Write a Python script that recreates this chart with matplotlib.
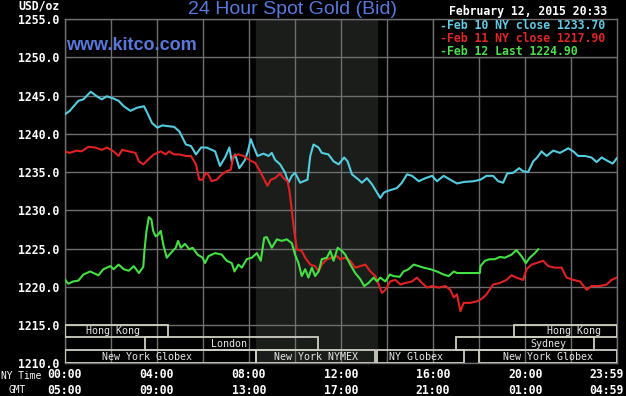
import matplotlib
matplotlib.use("Agg")
import matplotlib.pyplot as plt
from matplotlib.patches import Rectangle
from matplotlib.transforms import blended_transform_factory

# hours since 00:00 NY time, price in USD/oz
feb10_hours = [0, 0.23, 0.6, 0.82, 1.14, 1.4, 1.62, 1.84, 2.13, 2.35, 2.57, 2.86, 3.15, 3.45, 3.6, 3.8,
               4.03, 4.25, 4.47, 4.76, 4.99, 5.27, 5.49, 5.71, 5.93, 6.17, 6.54, 6.75, 6.97, 7.16, 7.26,
               7.41, 7.59, 7.84, 7.96, 8.09, 8.2, 8.38, 8.64, 8.86, 9.0, 9.14, 9.36, 9.58, 9.72, 9.87,
               10.01, 10.23, 10.38, 10.55, 10.67, 10.81, 11.03, 11.17, 11.46, 11.68, 11.9, 12.14, 12.29,
               12.48, 12.77, 12.91, 13.13, 13.35, 13.57, 13.71, 13.86, 14.0, 14.22, 14.43, 14.65, 14.87,
               15.09, 15.38, 15.67, 15.96, 16.17, 16.46, 16.75, 17.04, 17.33, 17.77, 18.06, 18.32, 18.61,
               18.83, 19.04, 19.22, 19.48, 19.74, 19.91, 20.13, 20.35, 20.52, 20.71, 20.93, 21.22, 21.51,
               21.87, 22.09, 22.3, 22.59, 22.88, 23.1, 23.32, 23.61, 23.8, 23.98]
feb10_price = [1242.5, 1243.0, 1244.3, 1244.5, 1245.5, 1244.9, 1244.5, 1244.9, 1244.6, 1244.3, 1243.6,
               1243.0, 1243.4, 1243.6, 1242.7, 1241.4, 1240.8, 1241.1, 1241.0, 1240.9, 1240.3, 1238.6,
               1238.4, 1237.3, 1238.2, 1238.2, 1237.7, 1235.8, 1236.9, 1238.2, 1236.4, 1237.3, 1235.5,
               1236.6, 1237.7, 1239.3, 1238.4, 1237.1, 1237.4, 1237.1, 1237.5, 1236.6, 1236.0, 1234.9,
               1233.6, 1234.5, 1234.9, 1233.6, 1233.8, 1234.0, 1237.1, 1238.6, 1238.2, 1237.5, 1237.3,
               1236.4, 1236.0, 1236.9, 1236.4, 1234.7, 1234.0, 1233.6, 1234.2, 1233.4, 1232.3, 1231.6,
               1232.3, 1232.5, 1232.7, 1232.9, 1233.6, 1234.7, 1234.5, 1233.8, 1234.2, 1234.5, 1233.8,
               1234.5, 1234.0, 1233.5, 1233.7, 1233.8, 1234.0, 1234.5, 1234.5, 1233.8, 1233.6, 1234.8,
               1234.9, 1235.5, 1235.1, 1235.0, 1236.4, 1236.9, 1237.7, 1237.1, 1237.8, 1237.5, 1238.1,
               1237.7, 1237.1, 1237.1, 1236.9, 1236.3, 1236.9, 1236.4, 1236.1, 1236.8]

feb11_hours = [0, 0.23, 0.53, 0.74, 1.04, 1.33, 1.62, 1.84, 2.13, 2.35, 2.5, 2.79, 3.08, 3.23, 3.42, 3.62,
               3.88, 4.18, 4.39, 4.54, 4.76, 4.98, 5.27, 5.49, 5.71, 5.85, 6.0, 6.1, 6.2, 6.39, 6.61, 6.83,
               7.04, 7.22, 7.33, 7.55, 7.77, 8.06, 8.28, 8.49, 8.64, 8.81, 8.96, 9.14, 9.36, 9.51, 9.68,
               9.77, 9.87, 9.97, 10.09, 10.3, 10.45, 10.67, 10.88, 11.03, 11.17, 11.39, 11.61, 11.83, 11.97,
               12.19, 12.4, 12.62, 12.84, 13.06, 13.28, 13.5, 13.64, 13.78, 13.93, 14.14, 14.36, 14.58,
               14.8, 15.09, 15.3, 15.52, 15.74, 15.96, 16.25, 16.54, 16.75, 16.9, 17.04, 17.19, 17.33,
               17.62, 17.91, 18.1, 18.32, 18.61, 18.9, 19.19, 19.41, 19.62, 19.91, 20.06, 20.28, 20.49,
               20.78, 21.0, 21.29, 21.58, 21.8, 22.09, 22.38, 22.67, 22.88, 23.25, 23.54, 23.75, 23.98]
feb11_price = [1237.7, 1237.5, 1237.8, 1237.7, 1238.3, 1238.2, 1237.9, 1238.2, 1237.7, 1237.1, 1237.9,
               1237.7, 1237.5, 1236.4, 1236.0, 1236.6, 1237.3, 1237.7, 1237.3, 1237.7, 1237.3, 1237.3,
               1237.1, 1237.1, 1236.0, 1234.0, 1234.0, 1234.7, 1234.9, 1233.8, 1234.0, 1234.7, 1235.1,
               1235.3, 1237.1, 1237.3, 1237.1, 1236.5, 1236.2, 1235.1, 1234.2, 1233.2, 1234.0, 1234.2,
               1234.8, 1234.2, 1233.8, 1232.5, 1229.9, 1227.3, 1224.9, 1224.7, 1223.8, 1222.9, 1222.7,
               1222.0, 1222.9, 1223.6, 1223.8, 1224.0, 1223.6, 1223.8, 1223.4, 1222.5, 1222.7, 1222.9,
               1222.0, 1221.4, 1220.3, 1219.2, 1219.6, 1220.7, 1220.9, 1220.3, 1220.5, 1220.7, 1221.2,
               1220.5, 1219.9, 1220.1, 1219.9, 1220.1, 1219.6, 1218.6, 1219.0, 1216.8, 1217.9, 1217.9,
               1218.1, 1218.4, 1219.0, 1220.3, 1220.5, 1220.9, 1221.5, 1221.2, 1220.9, 1222.3, 1222.9,
               1223.1, 1223.4, 1222.7, 1222.5, 1222.5, 1221.2, 1220.9, 1220.7, 1219.6, 1220.1, 1220.1,
               1220.3, 1220.9, 1221.2]

feb12_hours = [0, 0.16, 0.38, 0.6, 0.82, 1.11, 1.26, 1.47, 1.69, 1.99, 2.13, 2.35, 2.57, 2.79, 3.01, 3.23,
               3.42, 3.47, 3.56, 3.66, 3.77, 3.85, 3.96, 4.06, 4.18, 4.29, 4.44, 4.61, 4.83, 4.93, 5.05,
               5.23, 5.42, 5.56, 5.78, 6.0, 6.1, 6.25, 6.54, 6.83, 7.04, 7.26, 7.38, 7.55, 7.7, 7.91, 8.13,
               8.35, 8.52, 8.67, 8.78, 9.0, 9.22, 9.43, 9.65, 9.87, 10.01, 10.16, 10.3, 10.45, 10.59, 10.74,
               10.88, 11.03, 11.17, 11.39, 11.54, 11.68, 11.86, 12.04, 12.19, 12.41, 12.62, 12.84, 13.01,
               13.2, 13.42, 13.57, 13.71, 13.93, 14.12, 14.29, 14.55, 14.72, 14.94, 15.16, 15.38, 15.59,
               15.88, 16.17, 16.46, 16.68, 16.9, 17.04, 18.03, 18.06, 18.25, 18.46, 18.68, 18.9, 19.12,
               19.41, 19.62, 19.84, 20.03, 20.2, 20.42, 20.57]
feb12_price = [1221.0, 1220.4, 1220.7, 1220.8, 1221.6, 1222.0, 1221.8, 1221.5, 1222.3, 1222.7, 1222.3,
               1222.9, 1222.3, 1222.1, 1222.7, 1221.8, 1222.6, 1224.7, 1227.3, 1229.1, 1228.8, 1227.3,
               1226.6, 1226.8, 1227.3, 1225.5, 1223.8, 1224.4, 1225.1, 1226.0, 1225.1, 1225.6, 1224.9,
               1225.1, 1224.2, 1223.8, 1223.1, 1224.0, 1224.4, 1224.2, 1223.4, 1223.1, 1222.0, 1222.9,
               1222.5, 1223.6, 1223.8, 1224.4, 1223.4, 1226.4, 1226.5, 1225.1, 1226.2, 1226.0, 1226.2,
               1225.7, 1224.2, 1223.1, 1221.4, 1222.3, 1221.2, 1222.5, 1221.4, 1222.0, 1223.6, 1223.8,
               1224.7, 1223.4, 1225.1, 1224.7, 1224.2, 1222.9, 1221.8, 1221.0, 1220.1, 1220.5, 1221.2,
               1220.7, 1221.2, 1220.7, 1221.6, 1221.4, 1221.3, 1222.0, 1222.3, 1222.9, 1222.7, 1222.5,
               1222.3, 1222.0, 1221.6, 1221.4, 1222.0, 1221.8, 1221.8, 1222.7, 1223.4, 1223.6, 1223.6,
               1223.9, 1223.8, 1224.2, 1224.8, 1224.0, 1223.1, 1223.8, 1224.4, 1224.9]

legend_labels = ["Feb 10 NY close 1233.70", "Feb 11 NY close 1217.90", "Feb 12 Last 1224.90"]

y_ticks = [1210, 1215, 1220, 1225, 1230, 1235, 1240, 1245, 1250, 1255]
x_ticks = [0, 4, 8, 12, 16, 20, 24]
ny_labels = ["00:00", "04:00", "08:00", "12:00", "16:00", "20:00", "23:59"]
gmt_labels = ["05:00", "09:00", "13:00", "17:00", "21:00", "01:00", "04:59"]

# trading sessions: name, start, end (NY hours), row from top
session_names = ["Hong Kong", "London", "New York Globex", "New York NYMEX", "NY Globex",
                 "New York Globex", "Sydney", "Hong Kong"]
session_start = [0, 3.5, 0, 8.33, 13.58, 18.0, 17.0, 19.5]
session_end = [4.5, 11.0, 8.33, 13.5, 17.33, 24.0, 23.0, 24.0]
session_row = [0, 1, 2, 2, 2, 2, 1, 0]
label_pos = [2.1, 7.15, 3.6, 10.9, 15.25, 21.0, 21.0, 22.1]

nymex_open, nymex_close = 8.33, 13.55

colors = ["#55cde0", "#e02222", "#44e044"]
text_colors = ["#66cce6", "#e02828", "#50dd50"]
grid_col = "#6e6e6e"
blue = "#5a78dc"
mono = "DejaVu Sans Mono"

fig = plt.figure(figsize=(6.26, 3.96), dpi=100, facecolor="black")
ax = fig.add_axes([64.5 / 626, 1 - 363.3 / 396, (617.3 - 64.5) / 626, (363.3 - 19) / 396])
ax.set_facecolor("black")
ax.set_xlim(0, 24)
ax.set_ylim(1210, 1255)

ax.axvspan(nymex_open, nymex_close, color="#1a1d1a", zorder=0)

ax.set_xticks(list(range(0, 25, 2)))
ax.set_yticks(y_ticks)
ax.grid(True, color=grid_col, lw=1.0, zorder=1)
ax.tick_params(length=0, labelbottom=False)
ax.set_yticklabels([f"{v:.1f}" for v in y_ticks], color="white", family=mono,
                   fontweight="bold", fontsize=8.3)
ax.tick_params(axis="y", pad=4)
for s in ax.spines.values():
    s.set_color(grid_col)
    s.set_linewidth(1.0)

ax.plot(feb10_hours, feb10_price, color=colors[0], lw=1.5, zorder=5)
ax.plot(feb11_hours, feb11_price, color=colors[1], lw=1.5, zorder=6)
ax.plot(feb12_hours, feb12_price, color=colors[2], lw=1.5, zorder=7)

# session boxes at the bottom
row_top = [1215.0, 1213.4, 1211.75]
row_h = [1.6, 1.65, 1.75]
for name, a, b, r, lx in zip(session_names, session_start, session_end, session_row, label_pos):
    ax.add_patch(Rectangle((a, row_top[r] - row_h[r]), b - a, row_h[r], fill=False,
                           edgecolor="#cfcfc2", lw=1.3, zorder=3))
    ax.text(lx, row_top[r] - row_h[r] / 2, name, color="#e8e8e8", family=mono, fontsize=7.2,
            ha="center", va="center", zorder=4)

# legend box
ax.add_patch(Rectangle((16.0, 1250), 8.0, 5, facecolor="black", edgecolor=grid_col, lw=1.0, zorder=8))
for i, lab in enumerate(legend_labels):
    y = 1254.1 - i * 1.65
    ax.text(16.25, y, "-", color=text_colors[i], family=mono, fontweight="bold", fontsize=8.3,
            va="center", zorder=9)
    ax.text(16.6, y, lab, color=text_colors[i], family=mono, fontweight="bold", fontsize=8.3,
            va="center", zorder=9)

# time axis labels
tr = blended_transform_factory(ax.transData, fig.transFigure)
for x, a, b in zip(x_ticks, ny_labels, gmt_labels):
    ha = "right" if x == 24 else "center"
    xx = 24.27 if x == 24 else x
    fig.text(xx, 1 - 375 / 396, a, transform=tr, color="white", family=mono, fontweight="bold",
             fontsize=8.3, ha=ha, va="center")
    fig.text(xx, 1 - 390 / 396, b, transform=tr, color="white", family=mono, fontweight="bold",
             fontsize=8.3, ha=ha, va="center")
fig.text(1 / 626, 1 - 376 / 396, "NY Time", color="white", family=mono, fontsize=6.9,
         ha="left", va="center")
fig.text(17 / 626, 1 - 390 / 396, "GMT", color="white", family=mono, fontsize=6.9,
         ha="center", va="center")

fig.text(60 / 626, 1 - 6 / 396, "USD/oz", color="white", family=mono, fontweight="bold",
         fontsize=8.3, ha="right", va="center")
fig.text(292 / 626, 1 - 9 / 396, "24 Hour Spot Gold (Bid)", color=blue, family="Liberation Sans",
         fontsize=14, ha="center", va="center")
fig.text(66 / 626, 1 - 45 / 396, "www.kitco.com", color=blue, family="Liberation Sans",
         fontweight="bold", fontsize=13, ha="left", va="center", zorder=10)
fig.text(607 / 626, 1 - 12 / 396, "February 12, 2015 20:33", color="white", family=mono,
         fontweight="bold", fontsize=8.3, ha="right", va="center")

fig.savefig("out.png", dpi=100, facecolor="black")
